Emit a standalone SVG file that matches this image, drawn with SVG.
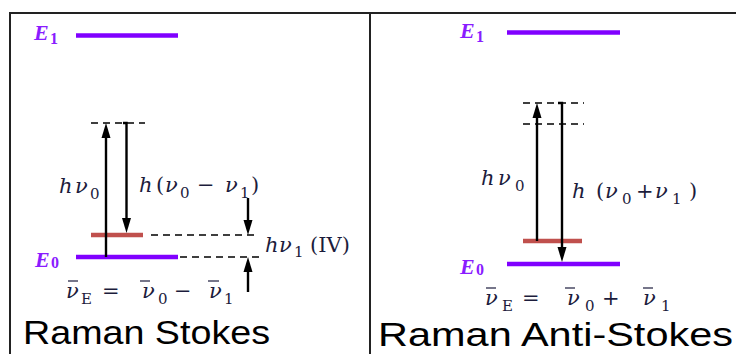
<svg xmlns="http://www.w3.org/2000/svg" width="736" height="354" viewBox="0 0 736 354">
<defs>
<style>
.frame{stroke:#222;stroke-width:2;fill:none}
.lvl{stroke:#8000ff;stroke-width:4.5}
.red{stroke:#c0504d;stroke-width:4.5}
.dash{stroke:#000;stroke-width:1.6;stroke-dasharray:7 5;fill:none}
.arr{stroke:#000;stroke-width:2.4;fill:none}
.ah{fill:#000}
.elab{font-family:"Liberation Serif",serif;font-style:italic;font-weight:bold;font-size:22px;fill:#8a1cff}
.es{font-style:normal;font-size:16px}
.m{font-family:"DejaVu Serif",serif;font-style:italic;font-size:21px;fill:#1c1c3c}
.up{font-style:normal}
.sb{font-style:normal;font-size:15px}
.bar{stroke:#1c1c3c;stroke-width:1.2}
.title{font-family:"Liberation Sans",Arial,sans-serif;font-size:33px;fill:#000}
</style>
</defs>
<g id="frame">
<path class="frame" d="M10,360 V13 H740 M370,13 V360"/>
</g>
<g id="stokes">
<g id="E1-left"><text class="elab" x="34" y="40">E<tspan class="es" x="50" y="44">1</tspan></text><line class="lvl" x1="76" y1="35.5" x2="178" y2="35.5"/></g>
<g id="E0-left"><text class="elab" x="35" y="267">E<tspan class="es" x="51" y="268">0</tspan></text><line class="lvl" x1="76" y1="257" x2="178" y2="257"/></g>
<g id="virtual-left"><line class="dash" x1="91" y1="123" x2="145" y2="123"/></g>
<g id="vib-left"><line class="red" x1="91" y1="235" x2="143" y2="235"/></g>
<text class="m" y="193"><tspan x="59">h</tspan><tspan x="75">ν</tspan><tspan class="sb" x="90" y="199">0</tspan></text>
<text class="m" y="192"><tspan x="139">h</tspan><tspan class="up" x="156">(</tspan><tspan x="165">ν</tspan><tspan class="sb" x="180" y="198">0</tspan><tspan class="up" x="197" y="192">−</tspan><tspan x="225">ν</tspan><tspan class="sb" x="240" y="198">1</tspan><tspan class="up" x="251" y="192">)</tspan></text>
<text class="m" y="252"><tspan x="265">h</tspan><tspan x="279">ν</tspan><tspan class="sb" x="294" y="257">1</tspan><tspan class="up" x="310" y="252">(IV)</tspan></text>
<text class="m" y="298"><tspan x="66">ν</tspan><tspan class="sb" x="81" y="304">E</tspan><tspan class="up" x="102" y="298">=</tspan><tspan x="142">ν</tspan><tspan class="sb" x="158" y="304">0</tspan><tspan class="up" x="174" y="298">−</tspan><tspan x="209">ν</tspan><tspan class="sb" x="224" y="304">1</tspan></text>
<g id="bars-left"><line class="bar" x1="68" y1="281" x2="78" y2="281"/><line class="bar" x1="140" y1="281" x2="150" y2="281"/><line class="bar" x1="208" y1="281" x2="219" y2="281"/></g>
<text class="title" x="23" y="344" textLength="247" lengthAdjust="spacingAndGlyphs">Raman Stokes</text>
</g>
<g id="antistokes">
<g id="E1-right"><text class="elab" x="460" y="38">E<tspan class="es" x="476" y="42">1</tspan></text><line class="lvl" x1="507" y1="32.5" x2="620" y2="32.5"/></g>
<g id="E0-right"><text class="elab" x="460" y="274">E<tspan class="es" x="476" y="275">0</tspan></text><line class="lvl" x1="507" y1="264" x2="620" y2="264"/></g>
<g id="virtual-right"><line class="dash" x1="523" y1="103" x2="584" y2="103"/><line class="dash" x1="523" y1="124" x2="584" y2="124"/></g>
<g id="vib-right"><line class="red" x1="523" y1="241" x2="582" y2="241"/></g>
<text class="m" y="185"><tspan x="481">h</tspan><tspan x="498">ν</tspan><tspan class="sb" x="515" y="191">0</tspan></text>
<text class="m" y="198"><tspan x="572">h</tspan><tspan class="up" x="596">(</tspan><tspan x="605">ν</tspan><tspan class="sb" x="622" y="204">0</tspan><tspan class="up" x="636" y="198">+</tspan><tspan x="655">ν</tspan><tspan class="sb" x="672" y="204">1</tspan><tspan class="up" x="689" y="198">)</tspan></text>
<text class="m" y="305"><tspan x="485">ν</tspan><tspan class="sb" x="502" y="311">E</tspan><tspan class="up" x="522" y="305">=</tspan><tspan x="567">ν</tspan><tspan class="sb" x="585" y="311">0</tspan><tspan class="up" x="602" y="305">+</tspan><tspan x="643">ν</tspan><tspan class="sb" x="661" y="311">1</tspan></text>
<g id="bars-right"><line class="bar" x1="486" y1="288" x2="496" y2="288"/><line class="bar" x1="565" y1="288" x2="575" y2="288"/><line class="bar" x1="643" y1="288" x2="653" y2="288"/></g>
<text class="title" x="378" y="346" textLength="355" lengthAdjust="spacingAndGlyphs">Raman Anti-Stokes</text>
</g>
<g id="connectors">
<line class="arr" x1="106" y1="257" x2="106" y2="136"/><polygon class="ah" points="106,123 101.5,138 110.5,138"/>
<path class="arr" d="M123,123 H126.5 V220"/><polygon class="ah" points="126.5,233 122,218 131,218"/>
<line class="arr" x1="248" y1="198" x2="248" y2="222"/><polygon class="ah" points="248,235 243.5,220 252.5,220"/>
<line class="arr" x1="248" y1="292" x2="248" y2="270"/><polygon class="ah" points="248,257 243.5,272 252.5,272"/>
<line class="dash" x1="151" y1="235" x2="255" y2="235"/>
<line class="dash" x1="180" y1="257" x2="261" y2="257"/>
<line class="arr" x1="537" y1="241" x2="537" y2="116"/><polygon class="ah" points="537,103 532.5,118 541.5,118"/>
<path class="arr" d="M558,103 H562 V249"/><polygon class="ah" points="562,262 557.5,247 566.5,247"/>
</g>
</svg>
